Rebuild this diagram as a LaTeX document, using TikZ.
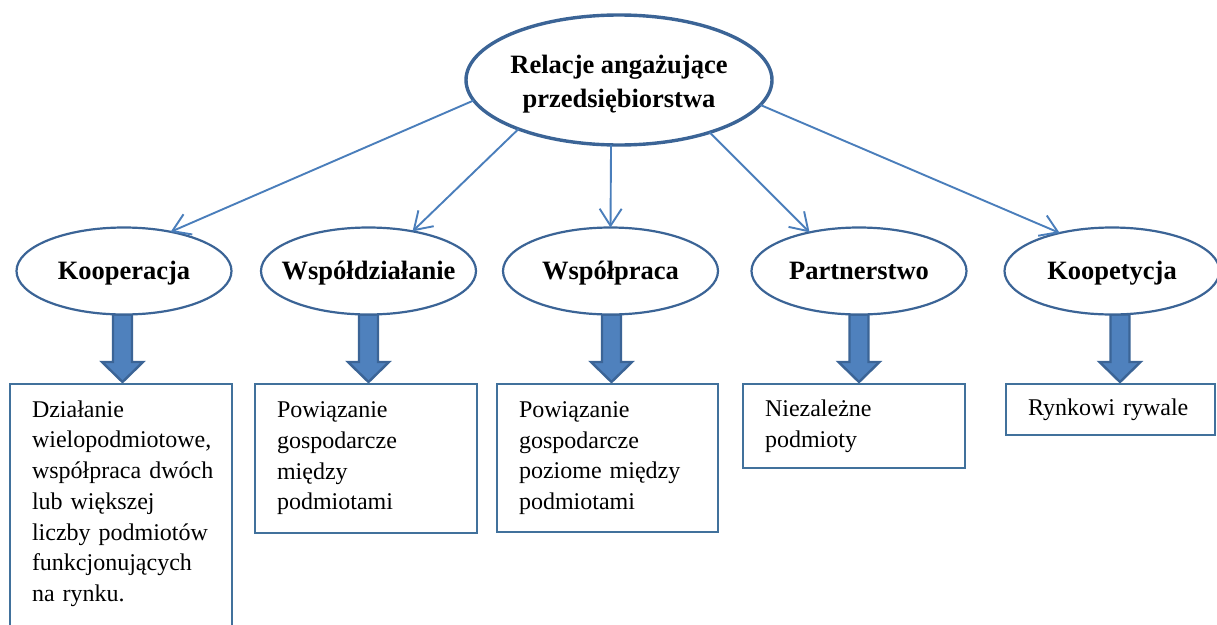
\documentclass[tikz,border=0pt]{standalone}
\usepackage{fontspec}
\setmainfont{Liberation Serif}
\usetikzlibrary{arrows.meta,calc,shapes.geometric}

\definecolor{linkblue}{HTML}{4A7EBB}
\definecolor{rimblue}{HTML}{3B6496}
\definecolor{boxblue}{HTML}{41719C}
\definecolor{fillblue}{HTML}{4F81BD}

\pgfdeclarelayer{back}
\pgfsetlayers{back,main}

\tikzset{
  topic/.style={ellipse, draw=rimblue, line width=2.2pt, fill=white,
    inner xsep=-40pt, inner ysep=0pt, outer sep=0pt, minimum width=215pt, minimum height=87pt,
    font=\bfseries\fontsize{26.5}{34}\selectfont, text height=22pt, text depth=5pt},
  root/.style={topic, line width=3.4pt, minimum width=306pt, minimum height=130pt,
    align=center, text height=60pt, text depth=5.4pt},
  note/.style={rectangle, draw=boxblue, line width=2pt, fill=white, anchor=north west,
    inner xsep=22pt, inner ysep=0pt, outer sep=0pt, align=left,
    font=\fontsize{24}{30.7}\selectfont},
  link/.style={draw=linkblue, line width=1.9pt, -{Straight Barb[length=17pt,width=22pt]}},
  downarrow/.style={draw=rimblue, fill=fillblue, line width=2.4pt, line join=miter},
}

% thick block arrow at horizontal position #1, from node #2 down to node #3
\newcommand\blockdrop[3]{%
  \draw[downarrow] let \p1=(#2.south), \p2=(#3.north) in
    ({#1pt-9.5pt},\y1) -- ({#1pt+9.5pt},\y1) -- ({#1pt+9.5pt},\y2+22pt)
    -- ({#1pt+20.5pt},\y2+22pt) -- ({#1pt},\y2+2pt) -- ({#1pt-20.5pt},\y2+22pt)
    -- ({#1pt-9.5pt},\y2+22pt) -- cycle;}

\begin{document}
\begin{tikzpicture}[x=1pt,y=-1pt]
\useasboundingbox (0,0) rectangle (1217,624);

% main concept
\node[root] (rel) at (619,80) {Relacje angażujące\\przedsiębiorstwa};

% forms of relations
\node[topic] (koop) at (124,271)   {Kooperacja};
\node[topic] (wsd)  at (368.5,271) {Współdziałanie};
\node[topic] (wsp)  at (610.5,271) {Współpraca};
\node[topic] (part) at (859,271)   {Partnerstwo};
\node[topic] (kpt)  at (1112,271)  {Koopetycja};

% descriptions
\node[note, minimum width=222pt, minimum height=260pt, text width=178pt,
      text height=16.4pt, text depth=210pt] (d1) at (10,384)
  {Działanie\\wielopodmiotowe,\\współpraca~dwóch\\lub~większej\\liczby~podmiotów\\funkcjonujących\\na~rynku.};
\node[note, minimum width=222pt, minimum height=149pt, text width=178pt] (d2) at (255,384)
  {Powiązanie\\gospodarcze\\między\\podmiotami};
\node[note, minimum width=221pt, minimum height=148pt, text width=177pt] (d3) at (497,384)
  {Powiązanie\\gospodarcze\\poziome~między\\podmiotami};
\node[note, minimum width=222pt, minimum height=84pt, text width=178pt] (d4) at (743,384)
  {Niezależne\\podmioty};
\node[note, minimum width=209pt, minimum height=51pt, text width=165pt] (d5) at (1006,384)
  {Rynkowi~rywale};

% thin connectors
\draw[link] (rel.188) -- (koop.40);
\draw[link] (rel.206) -- (wsd.42);
\draw[link] (rel.263) -- (wsp.north);
\draw[link] (rel.330) -- (part.142);
\draw[link] (rel.350) -- (kpt.144);

\begin{pgfonlayer}{back}
  \fill[white] (0,0) rectangle (1217,624);
  \blockdrop{122.5}{koop}{d1}
  \blockdrop{368.5}{wsd}{d2}
  \blockdrop{611.5}{wsp}{d3}
  \blockdrop{859}{part}{d4}
  \blockdrop{1120}{kpt}{d5}
\end{pgfonlayer}
\end{tikzpicture}
\end{document}
